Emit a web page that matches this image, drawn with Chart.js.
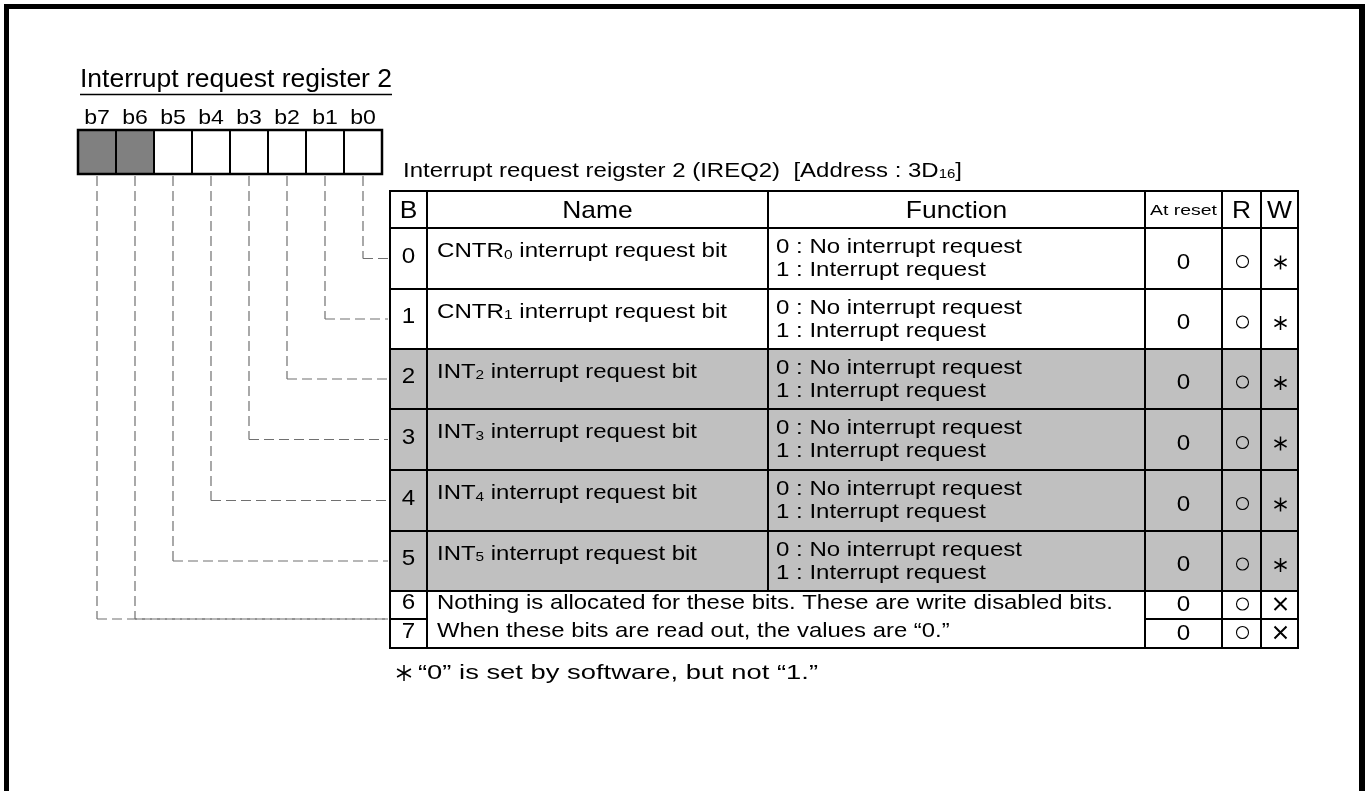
<!DOCTYPE html>
<html>
<head>
<meta charset="utf-8">
<script src="https://cdn.jsdelivr.net/npm/chart.js@4.4.1/dist/chart.umd.min.js"></script>
<style>
    html, body { margin: 0; padding: 0; background: #fff; }
    #wrap { width: 1368px; height: 791px; }
</style>
</head>
<body>
<div id="wrap"><canvas id="register-chart"></canvas></div>
<script>
// register data
const registerTitle = 'Interrupt request register 2';
const tableTitle = ['Interrupt request reigster 2 (IREQ2)  [Address : 3D', '16', ']'];
const bitLabels = ['b7', 'b6', 'b5', 'b4', 'b3', 'b2', 'b1', 'b0'];
const bitUnused = [true, true, false, false, false, false, false, false];
const headers = ['B', 'Name', 'Function', 'At reset', 'R', 'W'];
const rowBits = [0, 1, 2, 3, 4, 5, 6, 7];
const namePrefix = ['CNTR', 'CNTR', 'INT', 'INT', 'INT', 'INT'];
const nameSuffix = ' interrupt request bit';
const functionLines = ['0 : No interrupt request', '1 : Interrupt request'];
const rowShaded = [false, false, true, true, true, true, false, false];
const resetValues = [0, 0, 0, 0, 0, 0, 0, 0];
const readMarks = ['o', 'o', 'o', 'o', 'o', 'o', 'o', 'o'];
const writeMarks = ['*', '*', '*', '*', '*', '*', 'x', 'x'];
const unusedNote = ['Nothing is allocated for these bits. These are write disabled bits.',
    'When these bits are read out, the values are \u201c0.\u201d'];
const footnote = '\u201c0\u201d is set by software, but not \u201c1.\u201d';

const FONT = '"Liberation Sans", Arial, Helvetica, sans-serif';
const SX = 1.1;

// table grid
const cols = [390, 427, 768, 1145, 1222, 1261, 1298];
const rowEdges = [191, 228, 289, 349, 409, 470, 531, 591, 619, 648];

const registerPlugin = {
    id: 'register',
    afterDraw(chart) {
        const ctx = chart.ctx;
        const X = v => chart.scales.x.getPixelForValue(v);
        const Y = v => chart.scales.y.getPixelForValue(v);

        function measure(s, size) {
            ctx.font = size + 'px ' + FONT;
            return ctx.measureText(s).width;
        }

        // w = target width; sx = fixed horizontal scale
        function text(s, x, y, size, align, w, sx) {
            ctx.save();
            const m = measure(s, size);
            sx = sx || (w ? w / m : SX);
            ctx.translate(X(x), Y(y));
            ctx.scale(sx, 1);
            ctx.textBaseline = 'middle';
            ctx.textAlign = 'left';
            let ox = 0;
            if (align === 'center') ox = -m / 2;
            if (align === 'right') ox = -m;
            ctx.fillStyle = '#000';
            ctx.fillText(s, ox, 0);
            ctx.restore();
        }

        // text with a subscript in the middle: parts = [main, sub, rest]
        function rich(parts, x, y, size, subSize, w) {
            ctx.save();
            const a = measure(parts[0], size);
            const c = measure(parts[2], size);
            const b = measure(parts[1], subSize);
            const sx = w ? w / (a + b + c) : SX;
            ctx.translate(X(x), Y(y));
            ctx.scale(sx, 1);
            ctx.textBaseline = 'middle';
            ctx.fillStyle = '#000';
            ctx.font = size + 'px ' + FONT;
            ctx.fillText(parts[0], 0, 0);
            ctx.fillText(parts[2], a + b, 0);
            ctx.font = subSize + 'px ' + FONT;
            ctx.fillText(parts[1], a, size * 0.18);
            ctx.restore();
        }

        function line(x1, y1, x2, y2, w, color, dash) {
            ctx.save();
            ctx.strokeStyle = color || '#000';
            ctx.lineWidth = w;
            ctx.setLineDash(dash || []);
            ctx.beginPath();
            ctx.moveTo(X(x1), Y(y1));
            ctx.lineTo(X(x2), Y(y2));
            ctx.stroke();
            ctx.restore();
        }

        function mark(kind, cx, cy, r) {
            r = r || 7;
            ctx.save();
            ctx.strokeStyle = '#000';
            ctx.beginPath();
            if (kind === 'o') {
                ctx.lineWidth = 1.1;
                ctx.arc(X(cx), Y(cy), 6, 0, Math.PI * 2);
            } else if (kind === 'x') {
                ctx.lineWidth = 2;
                ctx.moveTo(X(cx - 6), Y(cy - 6)); ctx.lineTo(X(cx + 6), Y(cy + 6));
                ctx.moveTo(X(cx + 6), Y(cy - 6)); ctx.lineTo(X(cx - 6), Y(cy + 6));
            } else {
                ctx.lineWidth = 1.5;
                for (let k = 0; k < 3; k++) {
                    const a = Math.PI / 2 + k * Math.PI / 3;
                    const dx = Math.cos(a) * r, dy = Math.sin(a) * r;
                    ctx.moveTo(X(cx - dx), Y(cy - dy));
                    ctx.lineTo(X(cx + dx), Y(cy + dy));
                }
            }
            ctx.stroke();
            ctx.restore();
        }

        // outer frame
        ctx.fillStyle = '#000';
        ctx.fillRect(X(4), Y(4), X(1365) - X(4), 5);
        ctx.fillRect(X(4), Y(4), 5, Y(791) - Y(4));
        ctx.fillRect(X(1359), Y(4), 6, Y(791) - Y(4));

        // register title
        text(registerTitle, 80, 80, 25, 'left', 312);
        line(80, 94.5, 392, 94.5, 1.5);

        // bit boxes
        const boxX = 78, boxW = 38, boxTop = 130, boxBot = 174;
        bitLabels.forEach((lab, i) => {
            const cx = boxX + boxW * i + boxW / 2;
            text(lab, cx, 118, 21, 'center');
            if (bitUnused[i]) {
                ctx.fillStyle = '#808080';
                ctx.fillRect(X(boxX + boxW * i), Y(boxTop), X(boxW) - X(0), Y(boxBot) - Y(boxTop));
            }
        });
        ctx.save();
        ctx.strokeStyle = '#000';
        ctx.lineWidth = 2.5;
        ctx.strokeRect(X(boxX), Y(boxTop), X(boxX + boxW * 8) - X(boxX), Y(boxBot) - Y(boxTop));
        ctx.restore();
        for (let i = 1; i < 8; i++) line(boxX + boxW * i, boxTop, boxX + boxW * i, boxBot, 2);

        // table title
        rich(tableTitle, 403, 171, 20, 12.5, 559);

        // shading
        rowBits.forEach((b, r) => {
            if (!rowShaded[r]) return;
            ctx.fillStyle = '#c0c0c0';
            ctx.fillRect(X(cols[0]), Y(rowEdges[r + 1]), X(cols[6]) - X(cols[0]), Y(rowEdges[r + 2]) - Y(rowEdges[r + 1]));
        });

        // dashed leader lines from bit boxes to rows
        bitLabels.forEach((lab, i) => {
            const bit = 7 - i;
            const cx = boxX + boxW * i + boxW / 2;
            const ty = bit >= 6 ? rowEdges[8] : (rowEdges[bit + 1] + rowEdges[bit + 2]) / 2;
            line(cx, boxBot + 2, cx, ty, 1.2, '#707070', [10, 5]);
            line(cx, ty, cols[0] - 2, ty, 1.2, '#707070', [10, 5]);
        });

        // table grid
        const top = rowEdges[0], bot = rowEdges[9];
        rowEdges.forEach((y, k) => {
            if (k === 8) {
                line(cols[0], y, cols[1], y, 2);
                line(cols[3], y, cols[6], y, 2);
            } else {
                line(cols[0] - 1, y, cols[6] + 1, y, 2);
            }
        });
        cols.forEach((x, k) => {
            if (k === 2) line(x, top, x, rowEdges[7], 2);
            else line(x, top, x, bot, 2);
        });

        // headers
        const hy = 211;
        text(headers[0], (cols[0] + cols[1]) / 2, hy, 24, 'center');
        text(headers[1], (cols[1] + cols[2]) / 2, hy, 24, 'center');
        text(headers[2], (cols[2] + cols[3]) / 2, hy, 24, 'center');
        text(headers[3], (cols[3] + cols[4]) / 2, hy, 15.5, 'center', 67);
        text(headers[4], (cols[4] + cols[5]) / 2, hy, 24, 'center');
        text(headers[5], (cols[5] + cols[6]) / 2, hy, 24, 'center');

        // rows
        const fnSx = 246 / measure(functionLines[0], 21);
        const noteSx = 676 / measure(unusedNote[0], 21);
        rowBits.forEach((b, r) => {
            const y0 = rowEdges[r + 1], y1 = rowEdges[r + 2];
            const mid = (y0 + y1) / 2;
            if (r < 6) {
                text(String(b), (cols[0] + cols[1]) / 2, mid - 2, 22, 'center');
                rich([namePrefix[r], String(b), nameSuffix], 437, mid - 7, 21, 13.5, namePrefix[r] === 'CNTR' ? 290 : 260);
                text(functionLines[0], 776, mid - 11, 21, 'left', 0, fnSx);
                text(functionLines[1], 776, mid + 12, 21, 'left', 0, fnSx);
                text(String(resetValues[r]), (cols[3] + cols[4]) / 2, mid + 4, 22, 'center');
                mark(readMarks[r], (cols[4] + cols[5]) / 2 + 1, mid + 3);
                mark(writeMarks[r], (cols[5] + cols[6]) / 2 + 1, mid + 4);
            } else {
                text(String(b), (cols[0] + cols[1]) / 2, mid - 2, 22, 'center');
                text(unusedNote[r - 6], 437, mid - 2, 21, 'left', 0, noteSx);
                text(String(resetValues[r]), (cols[3] + cols[4]) / 2, mid, 22, 'center');
                mark(readMarks[r], (cols[4] + cols[5]) / 2 + 1, mid - 1);
                mark(writeMarks[r], (cols[5] + cols[6]) / 2 + 1, mid - 1);
            }
        });

        // footnote
        mark('*', 404, 673, 8);
        text(footnote, 418, 673, 21, 'left', 400);
    }
};

function createRegisterChart() {
    const ctx = document.getElementById('register-chart').getContext('2d');
    new Chart(ctx, {
        type: 'scatter',
        data: { datasets: [] },
        options: {
            responsive: true,
            maintainAspectRatio: false,
            animation: false,
            events: [],
            layout: { padding: 0 },
            scales: {
                x: { type: 'linear', min: 0, max: 1368, display: false },
                y: { type: 'linear', min: 0, max: 791, reverse: true, display: false }
            },
            plugins: {
                legend: { display: false },
                tooltip: { enabled: false }
            }
        },
        plugins: [registerPlugin]
    });
}

document.addEventListener('DOMContentLoaded', createRegisterChart);
</script>
</body>
</html>
